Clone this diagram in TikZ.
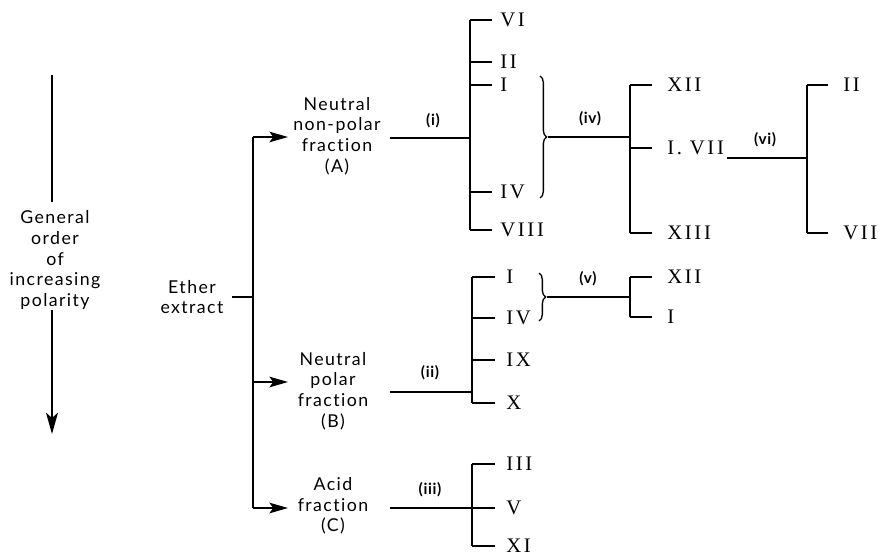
\documentclass[tikz,border=0pt]{standalone}
\usepackage{fontspec}
\setmainfont[LetterSpace=8,Ligatures={NoCommon,NoRequired,NoContextual}]{Lato}
\newfontfamily\tagfont[LetterSpace=4]{Lato}
\newfontfamily\numfont[LetterSpace=13]{Liberation Serif}
\usetikzlibrary{arrows.meta,decorations.pathreplacing}
\begin{document}
\begin{tikzpicture}[x=0.75pt,y=-0.75pt,
  lbl/.style={align=center,font=\fontsize{13.3}{15.4}\selectfont,inner sep=0},
  roman/.style={anchor=west,inner sep=0,font=\numfont\fontsize{15.5}{15.5}\selectfont},
  tag/.style={font=\tagfont\bfseries\fontsize{11.5}{12}\selectfont,inner sep=0},
  ln/.style={line width=1.1pt},
  arr/.style={ln,-{Stealth[length=14pt,width=8pt,inset=3pt]}},
  brc/.style={decorate,decoration={brace,amplitude=5pt},line width=1pt}]
\useasboundingbox (0,0) rectangle (881,556);

% left arrow
\node[lbl] (gen) at (55,260) {General\\order\\of\\increasing\\polarity};
\coordinate (g1) at (52,75);
\coordinate (g2) at (52,202);
\coordinate (g3) at (52,310);
\coordinate (g4) at (52,434);
\draw[ln] (g1) -- (g2);
\draw[ln,-{Stealth[length=16pt,width=9pt,inset=4pt]}] (g3) -- (g4);

% ether extract
\node[lbl] (ether) at (192,297) {Ether\\extract};
\coordinate (e1) at (232,297);
\coordinate (e0) at (253,297);
\coordinate (vt) at (253,137);
\coordinate (vm) at (253,382);
\coordinate (vb) at (253,508);
\draw[ln] (e1) -- (e0);
\draw[ln] (vt) -- (vb);

% fractions
\node[lbl] (A) at (337,136) {Neutral\\non-polar\\fraction\\(A)};
\node[lbl] (B) at (333,391) {Neutral\\polar\\fraction\\(B)};
\node[lbl] (C) at (333,506) {Acid\\fraction\\(C)};
\coordinate (At) at (288,137);
\coordinate (Bt) at (288,382);
\coordinate (Ct) at (288,508);
\draw[arr] (vt) -- (At);
\draw[arr] (vm) -- (Bt);
\draw[arr] (vb) -- (Ct);

% (i)
\coordinate (i0) at (390,138);
\coordinate (i1) at (470,138);
\draw[ln] (i0) -- (i1);
\node[tag] (ti) at (433,121) {(i)};
\coordinate (b1t) at (470,20);
\coordinate (b1b) at (470,230);
\draw[ln] (b1t) -- (b1b);
\foreach \y/\n/\t in {20/VI/a,62/II/b,85/I/c,192/IV/d,230/VIII/e}{
  \draw[ln] (470,\y) -- (492,\y);
  \node[roman] (r1\t) at (500,\y) {\n};
}
\coordinate (br1a) at (540,76);
\coordinate (br1b) at (540,198);
\draw[brc] (br1a) -- (br1b);
\coordinate (iv0) at (548,137);
\coordinate (iv1) at (630,137);
\draw[ln] (iv0) -- (iv1);
\node[tag] (tiv) at (590,119) {(iv)};
\coordinate (b2t) at (630,85);
\coordinate (b2b) at (630,233);
\draw[ln] (b2t) -- (b2b);
\foreach \y/\n/\t in {85/XII/a,148/{I. VII}/b,233/XIII/c}{
  \draw[ln] (630,\y) -- (652,\y);
  \node[roman] (r2\t) at (667,\y) {\n};
}
\coordinate (vi0) at (727,158);
\coordinate (vi1) at (807,158);
\draw[ln] (vi0) -- (vi1);
\node[tag] (tvi) at (765,140) {(vi)};
\coordinate (b3t) at (807,85);
\coordinate (b3b) at (807,233);
\draw[ln] (b3t) -- (b3b);
\foreach \y/\n/\t in {85/II/a,233/VII/b}{
  \draw[ln] (807,\y) -- (828,\y);
  \node[roman] (r3\t) at (843,\y) {\n};
}

% (ii)
\coordinate (ii0) at (390,392);
\coordinate (ii1) at (472,392);
\draw[ln] (ii0) -- (ii1);
\node[tag] (tii) at (430,373) {(ii)};
\coordinate (b4t) at (472,277);
\coordinate (b4b) at (472,403);
\draw[ln] (b4t) -- (b4b);
\foreach \y/\n/\t in {277/I/a,318/IV/b,360/IX/c,403/X/d}{
  \draw[ln] (472,\y) -- (495,\y);
  \node[roman] (r4\t) at (506,\y) {\n};
}
\coordinate (br2a) at (539,273);
\coordinate (br2b) at (539,321);
\draw[brc] (br2a) -- (br2b);
\coordinate (v0) at (547,297);
\coordinate (v1) at (630,297);
\draw[ln] (v0) -- (v1);
\node[tag] (tv) at (588,279) {(v)};
\coordinate (b5t) at (630,277);
\coordinate (b5b) at (630,317);
\draw[ln] (b5t) -- (b5b);
\foreach \y/\n/\t in {277/XII/a,317/I/b}{
  \draw[ln] (630,\y) -- (652,\y);
  \node[roman] (r5\t) at (667,\y) {\n};
}

% (iii)
\coordinate (iii0) at (390,508);
\coordinate (iii1) at (472,508);
\draw[ln] (iii0) -- (iii1);
\node[tag] (tiii) at (430,490) {(iii)};
\coordinate (b6t) at (472,464);
\coordinate (b6b) at (472,546);
\draw[ln] (b6t) -- (b6b);
\foreach \y/\n/\t in {464/III/a,508/V/b,546/XI/c}{
  \draw[ln] (472,\y) -- (495,\y);
  \node[roman] (r6\t) at (506,\y) {\n};
}
\end{tikzpicture}
\end{document}
